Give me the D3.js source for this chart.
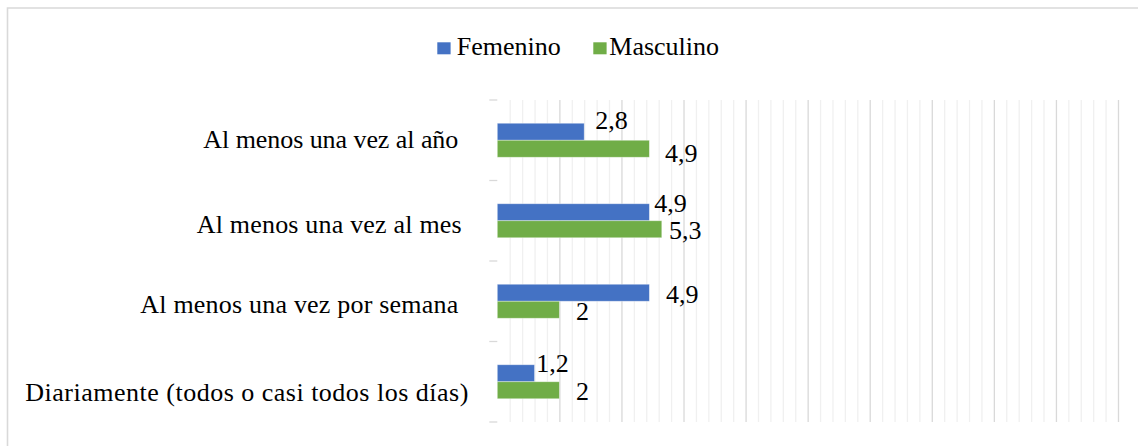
<!DOCTYPE html>
<html>
<head>
<meta charset="utf-8">
<script src="https://cdn.jsdelivr.net/npm/d3@7"></script>
<style>
  html, body { margin: 0; padding: 0; background: #ffffff; }
  svg { display: block; }
  text { font-family: "Liberation Serif", "Times New Roman", serif; fill: #000; }
</style>
</head>
<body>
<svg id="chart" width="1138" height="446"></svg>
<script>
// Frequency categories (top to bottom)
const categories = [
  "Al menos una vez al año",
  "Al menos una vez al mes",
  "Al menos una vez por semana",
  "Diariamente (todos o casi todos los días)"
];
const seriesNames = ["Femenino", "Masculino"];
const femenino = [2.8, 4.9, 4.9, 1.2];
const masculino = [4.9, 5.3, 2, 2];
const valueLabels = {
  Femenino: ["2,8", "4,9", "4,9", "1,2"],
  Masculino: ["4,9", "5,3", "2", "2"]
};
const xMax = 20;
const majorStep = 2;
const minorStep = 0.4;

// Layout: hand-placed label nudges (dx from bar end, dy of baseline from bar centre)
const labelNudge = {
  Femenino: [[11, -2.4], [5, -0.6], [16.7, 10.3], [1.7, -1.6]],
  Masculino: [[15.7, 13], [7.3, 10], [16.7, 10], [16.7, 10]]
};
// Category label layout: baseline offset from band centre, right edge, set width
const categoryLabelDy = [8, 12.5, 11.5, 19];
const categoryLabelRight = [458.3, 461.7, 458.3, 468.3];
const categoryLabelWidth = [255, 265, 318, 443];

const colors = { Femenino: "#4472C4", Masculino: "#70AD47" };
const fontSize = 26;

const svg = d3.select("#chart");
const plot = { left: 497.3, right: 1118, top: 100, bottom: 422 };

const x = d3.scaleLinear().domain([0, xMax]).range([plot.left, plot.right]);
const y = d3.scaleBand().domain(categories).range([plot.top, plot.bottom]).padding(0);
const barH = 17;
const ySeries = d3.scaleBand().domain(seriesNames).range([0, barH * 2]).padding(0);

// Chart frame
svg.append("path")
  .attr("d", `M7.5,446 V8 H1138`)
  .attr("fill", "none")
  .attr("stroke", "#d9d9d9")
  .attr("stroke-width", 1.6);

// Gridlines: minor every 0.4, major every 2
const minorVals = d3.range(1, Math.round(xMax / minorStep) + 1)
  .map(i => +(i * minorStep).toFixed(2))
  .filter(v => Math.abs(v / majorStep - Math.round(v / majorStep)) > 1e-6);
const majorVals = d3.range(1, xMax / majorStep + 1).map(i => i * majorStep);

const minorAxis = svg.append("g")
  .attr("transform", `translate(0,${plot.bottom})`)
  .call(d3.axisBottom(x).tickValues(minorVals).tickSize(-(plot.bottom - plot.top)).tickFormat(""));
minorAxis.select(".domain").remove();
minorAxis.selectAll("line").attr("stroke", "#f0f0f0").attr("stroke-width", 1.3);

const majorAxis = svg.append("g")
  .attr("transform", `translate(0,${plot.bottom})`)
  .call(d3.axisBottom(x).tickValues(majorVals).tickSize(-(plot.bottom - plot.top)).tickFormat(""));
majorAxis.select(".domain").remove();
majorAxis.selectAll("line").attr("stroke", "#d9d9d9").attr("stroke-width", 1.3);

// Category axis: tick marks at band boundaries, labels at band centres
const boundaries = categories.map(c => y(c)).concat([plot.bottom]);
svg.append("g").selectAll("line")
  .data(boundaries)
  .join("line")
  .attr("x1", plot.left - 8).attr("x2", plot.left)
  .attr("y1", d => d).attr("y2", d => d)
  .attr("stroke", "#d9d9d9").attr("stroke-width", 1.3);

svg.append("g").selectAll("text")
  .data(categories)
  .join("text")
  .attr("x", (d, i) => categoryLabelRight[i])
  .attr("y", (d, i) => y(d) + y.bandwidth() / 2 + categoryLabelDy[i])
  .attr("text-anchor", "end")
  .attr("font-size", fontSize)
  .attr("textLength", (d, i) => categoryLabelWidth[i])
  .attr("lengthAdjust", "spacing")
  .text(d => d);

// Bars
const rows = [];
categories.forEach((c, i) => {
  rows.push({ cat: c, i, series: "Femenino", value: femenino[i] });
  rows.push({ cat: c, i, series: "Masculino", value: masculino[i] });
});

const groupTop = c => y(c) + (y.bandwidth() - barH * 2) / 2;

svg.append("g").selectAll("rect")
  .data(rows)
  .join("rect")
  .attr("x", x(0))
  .attr("y", d => groupTop(d.cat) + ySeries(d.series))
  .attr("width", d => x(d.value) - x(0))
  .attr("height", ySeries.bandwidth())
  .attr("fill", d => colors[d.series])
  .attr("stroke", "#ffffff")
  .attr("stroke-opacity", 0.45)
  .attr("stroke-width", 0.8);

// Value labels
svg.append("g").selectAll("text")
  .data(rows)
  .join("text")
  .attr("x", d => x(d.value) + labelNudge[d.series][d.i][0])
  .attr("y", d => groupTop(d.cat) + ySeries(d.series) + ySeries.bandwidth() / 2 + labelNudge[d.series][d.i][1])
  .attr("font-size", fontSize)
  .text(d => valueLabels[d.series][d.i]);

// Legend
const legend = svg.append("g");
const legendItems = [
  { name: "Femenino", sx: 437.3, tx: 456.7 },
  { name: "Masculino", sx: 593.3, tx: 609.3 }
];
legend.selectAll("rect")
  .data(legendItems)
  .join("rect")
  .attr("x", d => d.sx).attr("y", 42.3)
  .attr("width", 13.3).attr("height", 12)
  .attr("fill", d => colors[d.name]);
legend.selectAll("text")
  .data(legendItems)
  .join("text")
  .attr("x", d => d.tx).attr("y", 55)
  .attr("font-size", fontSize)
  .text(d => d.name);
</script>
</body>
</html>
